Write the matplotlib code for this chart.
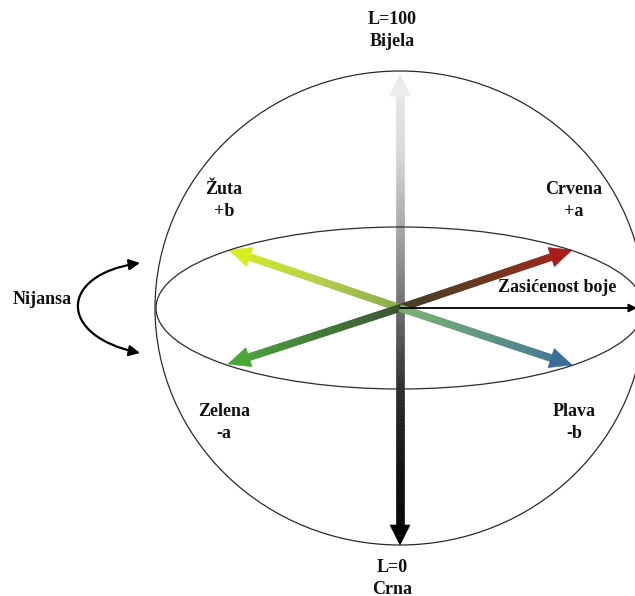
import numpy as np
import matplotlib
matplotlib.use("Agg")
import matplotlib.pyplot as plt
from matplotlib.patches import Ellipse, Polygon, FancyArrowPatch
from matplotlib.collections import PolyCollection
from matplotlib.colors import LinearSegmentedColormap
from matplotlib.path import Path

# Diagram values (pixel space of the original picture)
center = (400, 308)
sphere_size = (490, 474)
disc_size = (488, 162)

# a/b axis tips and their colour ramps (centre -> tip)
axis_names = ["Žuta", "Crvena", "Zelena", "Plava"]
axis_tips = [(229, 250), (572, 250), (228, 364), (572, 365)]
axis_colors = [
    ["#86a84a", "#b4d046", "#d9ee1f"],
    ["#3e3a1e", "#6a3218", "#a91c1c"],
    ["#35502c", "#3f7a34", "#4aa83a"],
    ["#7cb070", "#5a9480", "#3a6e98"],
]

# L axis
l_top = (400, 74)
l_bottom = (400, 545)
l_up_colors = ["#6a6a6a", "#a4a4a4", "#d8d8d8", "#ececec"]
l_down_colors = ["#6a6a6a", "#2a2a2a", "#0c0c0c", "#000000"]

labels = [
    ("L=100", 392, 20), ("Bijela", 392, 42),
    ("Žuta", 224, 189), ("+b", 224, 211),
    ("Crvena", 574, 189), ("+a", 574, 211),
    ("Zasićenost boje", 557, 287),
    ("Nijansa", 42, 300),
    ("Zelena", 224, 411), ("-a", 224, 433),
    ("Plava", 574, 411), ("-b", 574, 433),
    ("L=0", 392, 568), ("Crna", 392, 589),
]


def gradient_arrow(ax, start, end, colors, width, head_w, head_l, n=150):
    start = np.array(start, float)
    end = np.array(end, float)
    d = end - start
    length = np.hypot(*d)
    u = d / length
    p = np.array([-u[1], u[0]])
    shaft_end = end - u * head_l
    cmap = LinearSegmentedColormap.from_list("g", colors)
    ts = np.linspace(0, 1, n + 1)
    frac = 1 - head_l / length
    polys, cols = [], []
    for i in range(n):
        a = start + (shaft_end - start) * ts[i]
        b = start + (shaft_end - start) * ts[i + 1]
        polys.append([a + p * width / 2, b + p * width / 2,
                      b - p * width / 2, a - p * width / 2])
        cols.append(cmap((ts[i] + ts[i + 1]) / 2 * frac))
    ax.add_collection(PolyCollection(polys, facecolors=cols, edgecolors=cols,
                                     linewidths=0.4, zorder=3))
    head = [end, shaft_end + p * head_w / 2, shaft_end - p * head_w / 2]
    ax.add_patch(Polygon(head, closed=True, fc=cmap(1.0), ec=cmap(1.0),
                         lw=0.4, zorder=3))


fig = plt.figure(figsize=(6.35, 5.96), dpi=100)
ax = fig.add_axes([0, 0, 1, 1])
ax.set_xlim(0, 635)
ax.set_ylim(596, 0)
ax.axis("off")

# sphere and equatorial disc
ax.add_patch(Ellipse(center, *sphere_size, fill=False, ec="#2b2b2b", lw=0.9, zorder=2))
ax.add_patch(Ellipse(center, *disc_size, fill=False, ec="#2b2b2b", lw=0.9, zorder=4))

# L axis
gradient_arrow(ax, center, l_top, l_up_colors, 8, 21, 22)
gradient_arrow(ax, center, l_bottom, l_down_colors, 8, 20, 20)

# a/b axes
for tip, cols in zip(axis_tips, axis_colors):
    gradient_arrow(ax, center, tip, cols, 7, 20, 22)

# chroma arrow
ax.add_patch(FancyArrowPatch(center, (637, 308), arrowstyle="-|>",
                             mutation_scale=12, color="black", lw=1.3,
                             shrinkA=0, shrinkB=0, zorder=5))

# hue curved arrow
hue_path = Path([(140, 263), (58, 275), (58, 336), (140, 353)],
                [Path.MOVETO, Path.CURVE4, Path.CURVE4, Path.CURVE4])
ax.add_patch(FancyArrowPatch(path=hue_path, arrowstyle="<|-|>",
                             mutation_scale=16, color="black", lw=1.6, zorder=5))

for txt, x, y in labels:
    ax.text(x, y, txt, ha="center", va="center", fontsize=13, fontweight="bold",
            family=["Liberation Serif", "DejaVu Serif"], color="#111111", zorder=6)

fig.savefig("out.png", dpi=100)
